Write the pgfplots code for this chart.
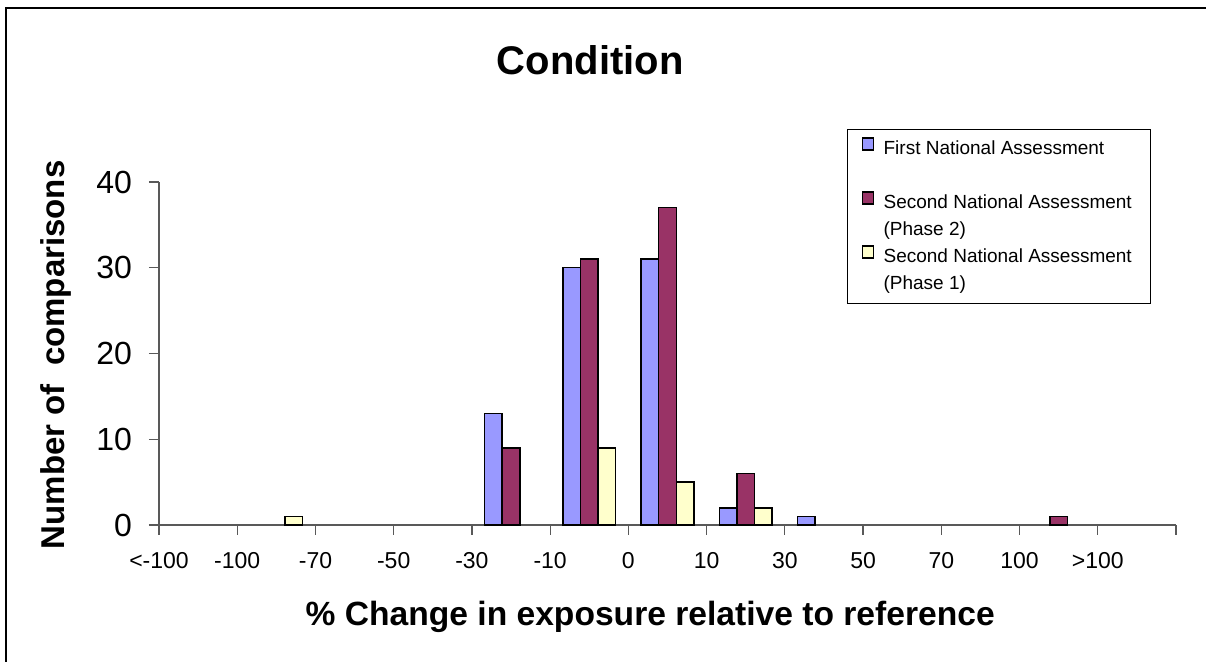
\documentclass[border=0pt]{standalone}
\usepackage{pgfplots}
\pgfplotsset{compat=1.18}
\usepackage{fontspec}
\setmainfont{Liberation Sans}
\definecolor{cblue}{HTML}{9999FF}
\definecolor{cplum}{HTML}{993366}
\definecolor{cyel}{HTML}{FFFFCC}
\begin{document}
\begin{tikzpicture}
\useasboundingbox (0,0) rectangle (603pt,331pt);
\draw[line width=0.8pt] (3pt,0pt) -- (3pt,327pt) -- (603pt,327pt);
\begin{axis}[
  at={(79.5pt,68.5pt)}, anchor=south west,
  scale only axis, width=508.5pt, height=171.5pt,
  xmin=0, xmax=13, ymin=0, ymax=40,
  axis x line=bottom, axis y line=left,
  axis line style={-, black!65, line width=0.6pt},
  tick style={black!65, line width=0.6pt},
  tick align=outside, major tick length=5pt,
  xtick={0,...,13},
  xticklabels={{<-100},{-100},{-70},{-50},{-30},{-10},{0},{10},{30},{50},{70},{100},{>100},{}},
  ytick={0,10,20,30,40},
  /pgf/number format/assume math mode=true,
  x tick label style={font=\fontsize{11.5}{13}\selectfont, yshift=-5pt},
  y tick label style={font=\fontsize{16}{18}\selectfont, xshift=-5pt},
  title={Condition},
  title style={font=\fontsize{20}{24}\selectfont\bfseries, at={(rel axis cs:0.424,1.32)}, anchor=center},
  xlabel={\% Change in exposure relative to reference},
  xlabel style={font=\fontsize{16.8}{19}\selectfont\bfseries, at={(rel axis cs:0.483,-0.268)}, anchor=center},
  ylabel={Number of\ \ comparisons},
  ylabel style={font=\fontsize{16.5}{19}\selectfont\bfseries, at={(rel axis cs:-0.101,0.496)}, anchor=center, rotate=0},
  legend style={at={(rel axis cs:0.6765,1.1545)}, anchor=north west,
    draw=black, line width=0.6pt, inner xsep=0pt, inner ysep=3pt, row sep=0pt, column sep=0pt,
    font=\fontsize{9.5}{11}\selectfont,
    nodes={inner sep=0pt, text height=7.5pt, text depth=2.5pt, inner ysep=1.75pt}},
  legend cell align=left,
  clip=false,
]
\addplot[ybar, fill=cblue, draw=black, line width=0.75pt, bar width=0.225, bar shift=-0.225,
  legend image code/.code={\path[draw=none,fill=none] (0pt,0pt) -- (18pt,0pt); \draw[fill=cblue, draw=black, line width=0.6pt] (7.3pt,-0.4pt) rectangle (13pt,5.6pt);}]
  coordinates {(4.5,13) (5.5,30) (6.5,31) (7.5,2) (8.5,1)};
\addlegendentry{\makebox[133.5pt][l]{First National Assessment}}
\addlegendimage{empty legend}
\addlegendentry{\mbox{}}
\addplot[ybar, fill=cplum, draw=black, line width=0.75pt, bar width=0.225, bar shift=0,
  legend image code/.code={\path[draw=none,fill=none] (0pt,0pt) -- (18pt,0pt); \draw[fill=cplum, draw=black, line width=0.6pt] (7.3pt,-0.4pt) rectangle (13pt,5.6pt);}]
  coordinates {(4.5,9) (5.5,31) (6.5,37) (7.5,6) (11.5,1)};
\addlegendentry{Second National Assessment}
\addlegendimage{empty legend}
\addlegendentry{(Phase 2)}
\addplot[ybar, fill=cyel, draw=black, line width=0.75pt, bar width=0.225, bar shift=0.225,
  legend image code/.code={\path[draw=none,fill=none] (0pt,0pt) -- (18pt,0pt); \draw[fill=cyel, draw=black, line width=0.6pt] (7.3pt,-0.4pt) rectangle (13pt,5.6pt);}]
  coordinates {(1.5,1) (5.5,9) (6.5,5) (7.5,2)};
\addlegendentry{Second National Assessment}
\addlegendimage{empty legend}
\addlegendentry{(Phase 1)}
\end{axis}
\end{tikzpicture}
\end{document}
